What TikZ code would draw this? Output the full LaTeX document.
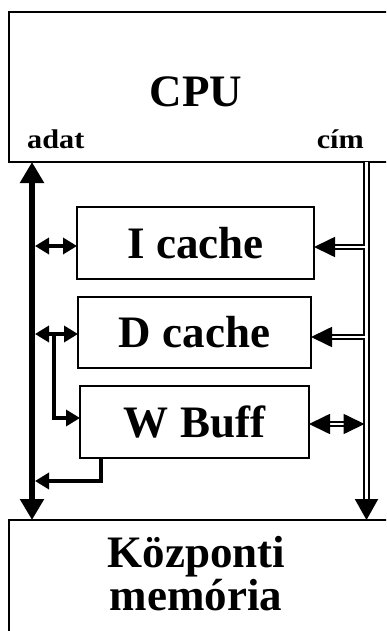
\documentclass[tikz,border=0pt]{standalone}
\usepackage{fontspec}
\setmainfont{Liberation Serif}
\newfontfamily\lblfont[FakeStretch=1.12]{Liberation Serif}
\usetikzlibrary{arrows.meta}

\tikzset{
  dtip/.tip={Triangle[length=14pt,width=16pt]},
  atip/.tip={Triangle[length=21pt,width=20pt]},
  btip/.tip={Triangle[length=21pt,width=23pt]},
}

\begin{document}
\begin{tikzpicture}[x=1pt,y=-1pt,
  box/.style={draw, line width=2pt, inner sep=0pt, outer sep=0pt},
  big/.style={font=\bfseries\fontsize{45}{44}\selectfont, inner sep=0pt},
  lbl/.style={font=\lblfont\bfseries\fontsize{27}{27}\selectfont, inner sep=0pt},
  databus/.style={line width=6pt, btip-btip},
  dataln/.style={line width=3.4pt},
  addrbus/.style={draw, double, double distance=2.4pt, line width=2pt},
  addrln/.style={draw, double, double distance=1.8pt, line width=1.7pt},
]
\clip (0,0) rectangle (386,631);

% processor
\node[box, minimum width=385pt, minimum height=150pt, anchor=north west] (cpu) at (8.5,12) {};
\node[big, anchor=base] (cputxt) at (196,107) {CPU};
\node[lbl, anchor=base west] (adat) at (27,149) {adat};
\node[lbl, anchor=base east] (cim) at (364,149) {cím};

% caches and write buffer
\node[box, big, minimum width=237pt, minimum height=72pt] (icache) at (195.5,243) {I cache};
\node[box, big, minimum width=233pt, minimum height=71pt] (dcache) at (194.5,332.5) {D cache};
\node[box, big, minimum width=229pt, minimum height=72pt] (wbuff) at (194.5,422) {W Buff};

% main memory
\node[box, minimum width=385pt, minimum height=130pt, anchor=north west] (mem) at (9,520) {};
\node[big, anchor=base] (memA) at (196.5,567) {Központi};
\node[big, anchor=base] (memB) at (196,610) {memória};

% data bus
\coordinate (dbus) at (32,0);
\coordinate (dR) at (35,0);
\draw[databus] (cpu.south -| dbus) -- (mem.north -| dbus);

\coordinate (iin) at ([yshift=-3pt]icache.west);
\draw[dataln, dtip-dtip] (dR |- iin) -- (iin);
\coordinate (din) at ([yshift=-1.5pt]dcache.west);
\draw[dataln, dtip-dtip] (dR |- din) -- (din);
\coordinate (br) at (54,0);
\coordinate (win) at ([yshift=4pt]wbuff.west);
\draw[dataln, -dtip] (br |- din) |- (win);
\coordinate (wout) at (101,0);
\coordinate (wret) at (35,481);
\draw[dataln, -dtip] (wbuff.south -| wout) |- (wret);

% address bus
\coordinate (abus) at (366.5,0);
\coordinate (aL) at (364.5,0);
\draw[addrbus, -btip] (cpu.south -| abus) -- (mem.north -| abus);

\coordinate (ia) at ([yshift=-4pt]icache.east);
\draw[addrln, -atip] (aL |- ia) -- (ia);
\coordinate (da) at ([yshift=-4.5pt]dcache.east);
\draw[addrln, -atip] (aL |- da) -- (da);
\coordinate (wa) at ([yshift=-2pt]wbuff.east);
\draw[addrln, atip-atip] (wa) -- (aL |- wa);
\end{tikzpicture}
\end{document}
